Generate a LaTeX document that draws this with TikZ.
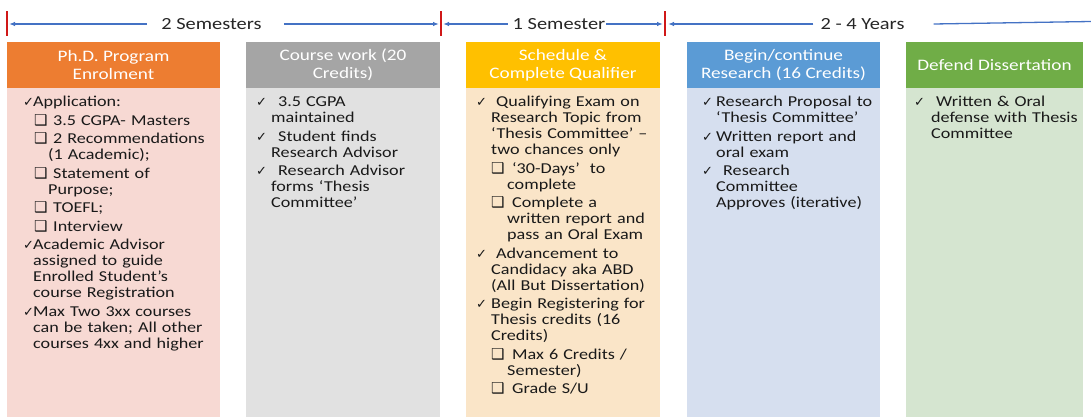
\documentclass[tikz,border=0pt]{standalone}
\usepackage{fontspec}
\setmainfont[FakeStretch=1.2]{Carlito}
\newfontfamily\symfont{DejaVu Sans}
\usetikzlibrary{arrows.meta}
\definecolor{orhd}{HTML}{ED7D31}
\definecolor{orbd}{HTML}{F7D9D3}
\definecolor{gyhd}{HTML}{A5A5A5}
\definecolor{gybd}{HTML}{E1E1E1}
\definecolor{yehd}{HTML}{FFC000}
\definecolor{yebd}{HTML}{FAE5C8}
\definecolor{blhd}{HTML}{5B9BD5}
\definecolor{blbd}{HTML}{D6DFEF}
\definecolor{grhd}{HTML}{70AD47}
\definecolor{grbd}{HTML}{D5E5D0}
\definecolor{arrblue}{HTML}{4472C4}
\definecolor{tickred}{HTML}{D01818}
\newcommand{\ckmark}{{\symfont\fontsize{13}{13}\selectfont ✓}}
\newcommand{\sqmark}{{\symfont\fontsize{15}{15}\selectfont ❑}}
\newcommand{\ckitem}[3]{\par\hangindent=#1pt\hangafter=1\noindent\makebox[#1pt][l]{\ckmark}\hspace*{#2pt}#3}
\newcommand{\sqitem}[4]{\par\hangindent=#2pt\hangafter=1\noindent\hspace*{#1pt}\makebox[\dimexpr#2pt-#1pt\relax][l]{\sqmark}\hspace*{#3pt}#4}
\newcommand{\bodysetup}{\fontsize{15.1}{16}\selectfont\setlength{\parskip}{2.5pt}}
\begin{document}
\begin{tikzpicture}[x=1pt, y=-1pt,
		hdr/.style={inner sep=0pt, text=white, align=center, minimum height=46pt, font=\fontsize{16}{18.4}\selectfont},
		bdy/.style={inner sep=0pt, anchor=north, minimum height=329pt},
		txt/.style={inner sep=0pt, anchor=north west, text width=260pt, align=left, text=black!90, font=\bodysetup},
		lbl/.style={inner sep=0pt, text=black!85, font=\fontsize{17}{20}\selectfont},
		arr/.style={draw=arrblue, line width=1.3pt, -{Latex[length=6pt,width=4.5pt]}},
		tick/.style={draw=tickred, line width=1.6pt}]
		\useasboundingbox (0,0) rectangle (1091,417);
		\node[lbl] (s2) at (211.5,24) {2 Semesters};
		\node[lbl] (s1) at (559,24) {1 Semester};
		\node[lbl] (s3) at (862.5,24) {2 - 4 Years};
		\coordinate (t0) at (7,24);
		\coordinate (t1) at (441,24);
		\coordinate (t2) at (665,24);
		\coordinate (te) at (1091,21.5);
		\draw[tick] (7,11.5) -- (7,36);
		\draw[tick] (441,11.5) -- (441,36);
		\draw[tick] (665,11.5) -- (665,36);
		\draw[arr, shorten >=2pt] ([xshift=-14pt]s2.west) -- (t0);
		\draw[arr, shorten >=2pt] ([xshift=22pt]s2.east) -- (t1);
		\draw[arr, shorten >=2pt] ([xshift=-5pt]s1.west) -- (t1);
		\draw[arr, shorten >=2pt] ([xshift=1pt]s1.east) -- (t2);
		\draw[arr, shorten >=3pt] ([xshift=-7pt]s3.west) -- (t2);
		\draw[draw=arrblue, line width=1.3pt] ([xshift=29pt]s3.east) -- (te);
		\node[hdr, fill=orhd, minimum width=213pt] (h1) at (113.5,65) {Ph.D. Program\\Enrolment};
		\node[hdr, fill=gyhd, minimum width=194pt] (h2) at (343,65) {Course work (20\\Credits)};
		\node[hdr, fill=yehd, minimum width=194pt] (h3) at (563,65) {Schedule \&\\Complete Qualifier};
		\node[hdr, fill=blhd, minimum width=193pt] (h4) at (783.5,65) {Begin/continue\\Research (16 Credits)};
		\node[hdr, fill=grhd, minimum width=177pt] (h5) at (994.5,65) {Defend Dissertation};
		\node[bdy, fill=orbd, minimum width=213pt] (b1) at (h1.south) {};
		\node[bdy, fill=gybd, minimum width=194pt] (b2) at (h2.south) {};
		\node[bdy, fill=yebd, minimum width=194pt] (b3) at (h3.south) {};
		\node[bdy, fill=blbd, minimum width=193pt] (b4) at (h4.south) {};
		\node[bdy, fill=grbd, minimum width=177pt] (b5) at (h5.south) {};
		\node[txt] (l1) at (23,88) {%
			\ckitem{10}{0}{Application:}
			\sqitem{11}{25}{5}{3.5 CGPA- Masters}
			\sqitem{11}{25}{5}{2 Recommendations\newline (1 Academic);}
			\sqitem{11}{25}{5}{Statement of\newline Purpose;}
			\sqitem{11}{25}{5}{TOEFL;}
			\sqitem{11}{25}{5}{Interview}
			\ckitem{10}{0}{Academic Advisor\newline assigned to guide\newline Enrolled Student's\newline course Registration}
			\ckitem{10}{0}{Max Two 3xx courses\newline can be taken; All other\newline courses 4xx and higher}\par};
		\node[txt] (l2) at (256,88) {%
			\ckitem{15}{7}{3.5 CGPA\newline maintained}
			\ckitem{15}{7}{Student finds\newline Research Advisor}
			\ckitem{15}{7}{Research Advisor\newline forms ‘Thesis\newline Committee’}\par};
		\node[txt] (l3) at (476,88) {%
			\ckitem{15}{5}{Qualifying Exam on\newline Research Topic from\newline ‘Thesis Committee’ –\newline two chances only}
			\sqitem{15}{31}{5}{‘30-Days’\ \ to\newline complete}
			\sqitem{15}{31}{5}{Complete a\newline written report and\newline pass an Oral Exam}
			\ckitem{15}{5}{Advancement to\newline Candidacy aka ABD\newline (All But Dissertation)}
			\ckitem{15}{0}{Begin Registering for\newline Thesis credits (16\newline Credits)}
			\sqitem{15}{31}{5}{Max 6 Credits /\newline Semester)}
			\sqitem{15}{31}{5}{Grade S/U}\par};
		\node[txt] (l4) at (702,88) {%
			\ckitem{14}{0}{Research Proposal to\newline ‘Thesis Committee’}
			\ckitem{14}{0}{Written report and\newline oral exam}
			\ckitem{14}{7}{Research\newline Committee\newline Approves (iterative)}\par};
		\node[txt] (l5) at (914,88) {%
			\ckitem{17}{5}{Written \& Oral\newline defense with Thesis\newline Committee}\par};
	\end{tikzpicture}
\end{document}
